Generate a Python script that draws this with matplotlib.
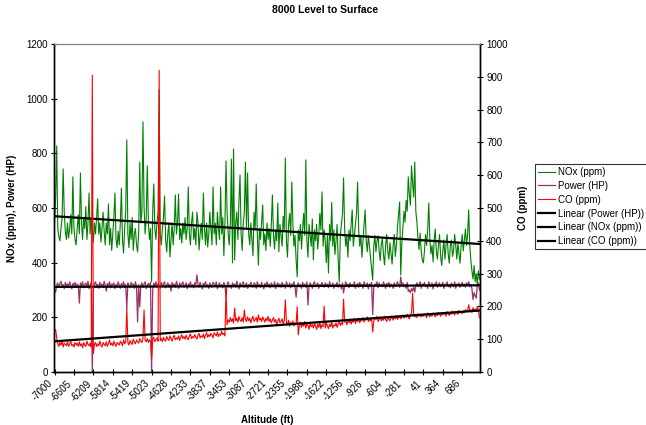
import numpy as np
import matplotlib.pyplot as plt

plt.rcParams['font.family'] = ['Liberation Sans', 'DejaVu Sans']

# altitude label shown under every 18th sample
alt_labels = ['-7000', '-6605', '-6209', '-5814', '-5419', '-5023', '-4628',
              '-4233', '-3837', '-3453', '-3087', '-2721', '-2355', '-1988',
              '-1622', '-1256', '-926', '-604', '-281', '41', '364', '686']
label_step = 18

nox = [
    545, 635, 827, 525, 495, 480, 525, 565, 743, 585, 515, 485, 545, 490, 525, 575, 505, 714, 525, 485,
    465, 525, 575, 505, 728, 545, 485, 565, 525, 605, 485, 545, 655, 505, 565, 525, 475, 545, 505, 565,
    633, 505, 545, 475, 525, 585, 515, 465, 545, 505, 615, 465, 525, 445, 505, 565, 655, 485, 455, 515,
    465, 545, 673, 485, 435, 525, 585, 849, 505, 455, 545, 485, 565, 445, 505, 525, 465, 439, 505, 768,
    545, 585, 915, 605, 505, 565, 754, 545, 485, 525, 330, 585, 688, 525, 485, 545, 585, 1032, 505, 465,
    525, 565, 644, 485, 439, 505, 545, 421, 485, 545, 465, 525, 648, 505, 545, 651, 485, 525, 472, 545,
    505, 565, 485, 525, 677, 505, 465, 545, 585, 485, 525, 465, 585, 545, 446, 505, 545, 485, 655, 525,
    465, 545, 457, 505, 585, 525, 465, 677, 505, 545, 465, 585, 525, 485, 677, 505, 565, 425, 545, 772,
    585, 505, 465, 545, 779, 399, 816, 410, 545, 585, 485, 625, 721, 505, 445, 545, 585, 768, 525, 728,
    505, 465, 545, 485, 425, 585, 525, 688, 505, 391, 525, 485, 545, 611, 465, 505, 445, 545, 485, 525,
    460, 540, 648, 500, 450, 520, 480, 618, 440, 540, 500, 460, 570, 520, 783, 480, 420, 540, 580, 500,
    695, 540, 460, 500, 410, 348, 520, 480, 540, 450, 520, 580, 500, 776, 480, 420, 540, 500, 460, 560,
    410, 520, 480, 540, 450, 500, 580, 520, 659, 460, 520, 480, 400, 500, 362, 540, 480, 620, 460, 520,
    430, 480, 540, 410, 329, 500, 540, 580, 710, 520, 460, 500, 420, 520, 480, 540, 593, 460, 500, 540,
    580, 695, 520, 460, 500, 420, 480, 540, 593, 480, 440, 500, 460, 420, 380, 337, 460, 500, 440, 480,
    498, 443, 408, 468, 488, 428, 392, 463, 503, 443, 413, 473, 433, 395, 463, 503, 423, 463, 528, 578,
    622, 355, 468, 528, 588, 548, 628, 588, 714, 650, 610, 754, 690, 640, 768, 588, 548, 488, 448, 508,
    443, 408, 399, 443, 503, 463, 523, 618, 483, 433, 463, 403, 483, 523, 443, 413, 463, 503, 423, 390,
    443, 483, 413, 463, 503, 433, 398, 463, 483, 423, 443, 503, 463, 413, 473, 433, 398, 463, 503, 443,
    483, 523, 463, 503, 593, 463, 410, 370, 340, 390, 330, 360, 320, 370, 340]

power = [
    300, 292, 318, 326, 310, 322, 332, 312, 320, 305, 328, 316, 322, 310, 330, 318, 304, 324, 315, 328,
    310, 322, 318, 252, 326, 314, 330, 308, 320, 325, 312, 332, 305, 318, 326, 0, 300, 322, 330, 314,
    320, 306, 328, 316, 322, 310, 332, 318, 296, 324, 315, 330, 308, 322, 318, 326, 305, 320, 312, 330,
    318, 306, 324, 314, 330, 310, 320, 234, 326, 316, 308, 328, 318, 322, 306, 330, 314, 183, 320, 238,
    316, 326, 310, 322, 330, 305, 318, 324, 312, 328, 0, 300, 325, 316, 330, 310, 322, 318, 306, 328,
    314, 322, 330, 308, 318, 326, 312, 320, 296, 328, 316, 322, 310, 332, 318, 306, 326, 314, 322, 330,
    310, 318, 326, 305, 322, 316, 330, 312, 320, 308, 326, 318, 355, 322, 310, 328, 316, 304, 324, 318,
    330, 312, 320, 306, 326, 318, 310, 328, 322, 314, 330, 305, 318, 326, 312, 320, 308, 328, 316, 275,
    322, 330, 312, 318, 306, 326, 316, 322, 310, 332, 318, 304, 326, 314, 322, 330, 310, 318, 326, 306,
    320, 314, 328, 318, 310, 326, 322, 306, 330, 316, 320, 310, 328, 318, 304, 324, 316, 330, 312, 322,
    308, 326, 318, 312, 330, 305, 320, 326, 314, 322, 310, 328, 316, 320, 306, 330, 318, 312, 326, 308,
    322, 316, 330, 310, 274, 318, 326, 312, 320, 306, 328, 316, 322, 310, 330, 245, 314, 326, 318, 306,
    322, 330, 312, 318, 326, 306, 320, 314, 328, 318, 310, 326, 316, 322, 308, 330, 318, 312, 326, 306,
    320, 316, 328, 310, 322, 318, 304, 326, 289, 314, 330, 318, 322, 308, 326, 316, 320, 312, 330, 306,
    318, 324, 310, 328, 316, 320, 306, 330, 318, 312, 326, 304, 322, 316, 328, 210, 310, 322, 318, 330,
    308, 326, 316, 320, 312, 330, 318, 306, 324, 316, 328, 310, 322, 318, 306, 326, 312, 320, 330, 316,
    310, 348, 318, 326, 312, 320, 306, 328, 295, 300, 290, 305, 296, 310, 292, 318, 326, 312, 320, 330,
    306, 322, 316, 328, 312, 320, 306, 330, 318, 312, 326, 304, 322, 316, 330, 310, 320, 326, 312, 318,
    328, 306, 322, 316, 330, 312, 320, 308, 326, 318, 312, 330, 306, 322, 318, 326, 310, 320, 328, 314,
    322, 310, 326, 318, 330, 312, 320, 306, 265, 290, 280, 270, 318, 326, 300]

co = [
    122, 130, 104, 86, 78, 90, 82, 94, 76, 88, 84, 80, 92, 78, 86, 94, 80, 84, 76, 90,
    82, 88, 78, 92, 80, 86, 74, 90, 82, 78, 94, 84, 80, 88, 76, 905, 56, 84, 90, 78,
    86, 80, 94, 82, 76, 90, 84, 80, 92, 78, 86, 98, 82, 88, 80, 94, 84, 78, 90, 86,
    82, 94, 88, 80, 98, 86, 92, 195, 90, 82, 96, 88, 84, 100, 90, 86, 98, 92, 88, 102,
    94, 90, 104, 189, 96, 92, 102, 90, 98, 94, 40, 100, 106, 92, 98, 104, 94, 920, 96, 102,
    92, 106, 98, 94, 108, 100, 96, 110, 102, 94, 106, 112, 98, 104, 100, 110, 96, 106, 114, 102,
    108, 100, 112, 104, 98, 110, 116, 102, 108, 104, 114, 106, 100, 112, 118, 104, 110, 106, 116, 102,
    112, 120, 106, 114, 108, 118, 112, 104, 120, 114, 110, 122, 108, 116, 112, 124, 114, 118, 110, 250,
    144, 159, 152, 166, 154, 162, 149, 195, 156, 164, 152, 169, 158, 154, 166, 152, 189, 160, 154, 168,
    156, 164, 150, 162, 170, 154, 160, 166, 152, 174, 158, 164, 154, 168, 160, 152, 164, 156, 170, 154,
    162, 150, 158, 166, 152, 160, 144, 156, 164, 150, 154, 162, 146, 158, 220, 152, 144, 158, 140, 152,
    144, 156, 140, 150, 146, 199, 113, 142, 152, 136, 148, 140, 154, 134, 146, 142, 130, 150, 138, 144,
    134, 148, 140, 130, 146, 136, 152, 132, 144, 138, 201, 134, 150, 140, 132, 146, 138, 152, 134, 144,
    140, 150, 136, 146, 154, 142, 150, 144, 222, 152, 158, 144, 154, 150, 162, 146, 156, 152, 164, 148,
    158, 154, 164, 150, 160, 156, 166, 152, 162, 158, 168, 154, 162, 156, 164, 122, 154, 166, 160, 170,
    154, 160, 168, 156, 162, 158, 170, 160, 154, 166, 162, 156, 170, 164, 158, 168, 162, 172, 160, 166,
    170, 162, 168, 174, 164, 170, 166, 176, 168, 162, 174, 180, 240, 176, 168, 172, 166, 178, 170, 174,
    168, 176, 170, 178, 172, 166, 180, 174, 168, 176, 170, 180, 174, 168, 178, 172, 182, 176, 170, 180,
    174, 182, 176, 170, 184, 178, 172, 182, 176, 186, 178, 174, 184, 180, 176, 188, 180, 184, 178, 186,
    182, 190, 184, 188, 205, 186, 190, 182, 196, 188, 192, 184, 200, 188, 165]

x = np.arange(len(nox))


def linear(y):
    k, b = np.polyfit(x, y, 1)
    return k * x + b


fig = plt.figure(figsize=(6.46, 4.25), dpi=100)
ax = fig.add_axes([54 / 646, 1 - 372 / 425, 426 / 646, 328 / 425])
ax2 = ax.twinx()

h_nox, = ax.plot(x, nox, color='#008000', lw=0.8)
h_pow, = ax.plot(x, power, color='#993366', lw=0.9)
t_pow, = ax.plot(x, linear(power), color='black', lw=1.6)
t_nox, = ax.plot(x, linear(nox), color='black', lw=1.6)
h_co, = ax2.plot(x, co, color='#ff0000', lw=0.8)
t_co, = ax2.plot(x, linear(co), color='black', lw=1.6)

ax.set_xlim(-0.5, len(x) - 0.5)
ax.set_ylim(0, 1200)
ax2.set_ylim(0, 1000)
ax.set_yticks(range(0, 1201, 200))
ax2.set_yticks(range(0, 1001, 100))
ax.set_xticks(x[::label_step])
ax.set_xticklabels(alt_labels, rotation=45, ha='right', va='top')

for a in (ax, ax2):
    a.tick_params(direction='inout', length=5, width=0.8, labelsize=7, pad=2)
    a.spines['top'].set_color('#808080')
    a.spines['top'].set_linewidth(0.8)
    for s in ('left', 'right', 'bottom'):
        a.spines[s].set_linewidth(1.0)

ax.set_ylabel('NOx (ppm), Power (HP)', fontsize=7, fontweight='bold')
ax.yaxis.set_label_coords(-0.087, 0.5)
ax2.set_ylabel('CO (ppm)', fontsize=7, fontweight='bold', rotation=90)
ax2.yaxis.set_label_coords(1.089, 0.5)
ax.set_xlabel('Altitude (ft)', fontsize=7, fontweight='bold')
ax.xaxis.set_label_coords(0.5, -0.131)

fig.text(0.503, 1 - 10 / 425, '8000 Level to Surface', ha='center', va='center',
         fontsize=7.5, fontweight='bold')

leg = fig.legend([h_nox, h_pow, h_co, t_pow, t_nox, t_co],
                 ['NOx (ppm)', 'Power (HP)', 'CO (ppm)', 'Linear (Power (HP))',
                  'Linear (NOx (ppm))', 'Linear (CO (ppm))'],
                 loc='upper left', bbox_to_anchor=(535 / 646, 1 - 164 / 425),
                 fontsize=7, frameon=True, fancybox=False, edgecolor='black',
                 handlelength=1.8, handletextpad=0.3, labelspacing=0.4,
                 borderpad=0.3, borderaxespad=0)
leg.get_frame().set_linewidth(0.8)

fig.savefig('out.png', dpi=100)
